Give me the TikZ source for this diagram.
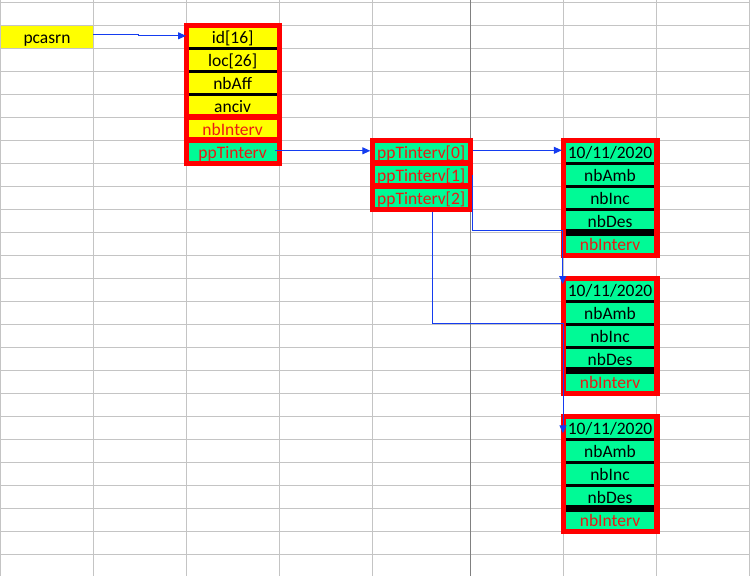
\documentclass[tikz,border=0pt]{standalone}
\usepackage{fontspec}
\setmainfont{Carlito}
\usetikzlibrary{arrows.meta}
\definecolor{cellyellow}{RGB}{255,255,0}
\definecolor{cellgreen}{RGB}{0,250,150}
\definecolor{boxred}{RGB}{255,0,0}
\definecolor{txtred}{RGB}{235,25,20}
\definecolor{linkblue}{RGB}{20,60,240}
\definecolor{gridgray}{RGB}{196,196,196}
\definecolor{splitgray}{RGB}{128,128,128}

\begin{document}
\begin{tikzpicture}[x=1pt,y=-1pt,
  cell/.style={anchor=north west, inner sep=0pt, outer sep=0pt,
    text height=18pt, text depth=5pt, minimum height=23pt,
    font=\fontsize{17.5}{20}\selectfont},
  ycell/.style={cell, fill=cellyellow},
  gcell/.style={cell, fill=cellgreen},
  redtext/.style={text=txtred},
  gridline/.style={draw=gridgray, line width=1pt},
  splitline/.style={draw=splitgray, line width=1pt},
  outerframe/.style={draw=boxred, line width=5.4pt},
  thinrule/.style={draw=black, line width=3pt},
  thickrule/.style={draw=black, line width=6.5pt},
  redrule/.style={draw=boxred, line width=6pt},
  conn/.style={draw=linkblue, line width=1pt, -{Triangle[length=8pt,width=7pt]}}]

% sheet area
\useasboundingbox (0,0) rectangle (750,576);
\fill[white] (0,0) rectangle (750,576);

% spreadsheet grid
\foreach \x in {0.7,93.3,186,279.3,372.3,563.3,656.7,749.5}
  \draw[gridline] (\x,0) -- (\x,576);
\foreach \k in {0,...,24}
  \draw[gridline] (0,{2.3+23*\k}) -- (750,{2.3+23*\k});
\draw[splitline] (470.3,0) -- (470.3,576);

% pointer variable
\node[ycell, minimum width=92.6] (pc) at (0.7,25.3) {pcasrn};
\draw[gridline] (pc.north west) rectangle (pc.south east);

% structure record
\node[ycell, minimum width=93.3] (id)  at (186,25.3)       {id[16]};
\node[ycell, minimum width=93.3] (loc) at (id.south west)  {loc[26]};
\node[ycell, minimum width=93.3] (aff) at (loc.south west) {nbAff};
\node[ycell, minimum width=93.3] (anc) at (aff.south west) {anciv};
\node[ycell, redtext, minimum width=93.3] (ni)  at (anc.south west) {nbInterv};
\node[gcell, redtext, minimum width=93.3] (ppt) at (ni.south west)  {ppTinterv};
\draw[thinrule] (id.south west) -- (id.south east);
\draw[thinrule] (loc.south west) -- (loc.south east);
\draw[thinrule] (aff.south west) -- (aff.south east);
\draw[redrule] (anc.south west) -- (anc.south east);
\draw[redrule] (ni.south west) -- (ni.south east);
\draw[outerframe] ([shift={(0.4,0.4)}]id.north west) rectangle ([shift={(0.4,0.4)}]ppt.south east);

% pointer array
\node[gcell, redtext, minimum width=98] (pa0) at (372.3,140.3)     {ppTinterv[0]};
\node[gcell, redtext, minimum width=98] (pa1) at (pa0.south west) {ppTinterv[1]};
\node[gcell, redtext, minimum width=98] (pa2) at (pa1.south west) {ppTinterv[2]};
\draw[redrule] (pa0.south west) -- (pa0.south east);
\draw[redrule] (pa1.south west) -- (pa1.south east);
\draw[outerframe] ([shift={(0.4,0.4)}]pa0.north west) rectangle ([shift={(0.4,0.4)}]pa2.south east);

% intervention records
\foreach \b/\k in {1/6, 2/12, 3/18} {
  \node[gcell, minimum width=93.4] (d\b)   at (563.3,{2.3+23*\k}) {10/11/2020};
  \node[gcell, minimum width=93.4] (amb\b) at (d\b.south west)   {nbAmb};
  \node[gcell, minimum width=93.4] (inc\b) at (amb\b.south west) {nbInc};
  \node[gcell, minimum width=93.4] (des\b) at (inc\b.south west) {nbDes};
  \node[gcell, redtext, minimum width=93.4] (ni\b) at (des\b.south west) {nbInterv};
  \draw[thinrule] (d\b.south west) -- (d\b.south east);
  \draw[thinrule] (amb\b.south west) -- (amb\b.south east);
  \draw[thinrule] (inc\b.south west) -- (inc\b.south east);
  \draw[thickrule] (des\b.south west) -- (des\b.south east);
  \draw[outerframe] ([shift={(0.4,0.4)}]d\b.north west) rectangle ([shift={(0.4,0.4)}]ni\b.south east);
}

% links
\draw[conn] ([yshift=2]pc.east) -- ++(45,0) |- ([yshift=1]id.west);
\draw[conn] ([xshift=-4,yshift=1]ppt.east) -- ([xshift=-2,yshift=1]pa0.west);
\draw[conn] ([xshift=2.4,yshift=1.5]pa0.east) -- ([xshift=-1.5,yshift=1.5]d1.west);
\draw[conn] ([xshift=2.4]pa1.east) -- ++(0,56) -| ([xshift=-0.6,yshift=-5.7]d2.north west);
\draw[conn] ([xshift=11,yshift=-2.4]pa2.south) -- ++(0,111.6) -| ([xshift=-0.3,yshift=-17]d3.north west);
\end{tikzpicture}
\end{document}
